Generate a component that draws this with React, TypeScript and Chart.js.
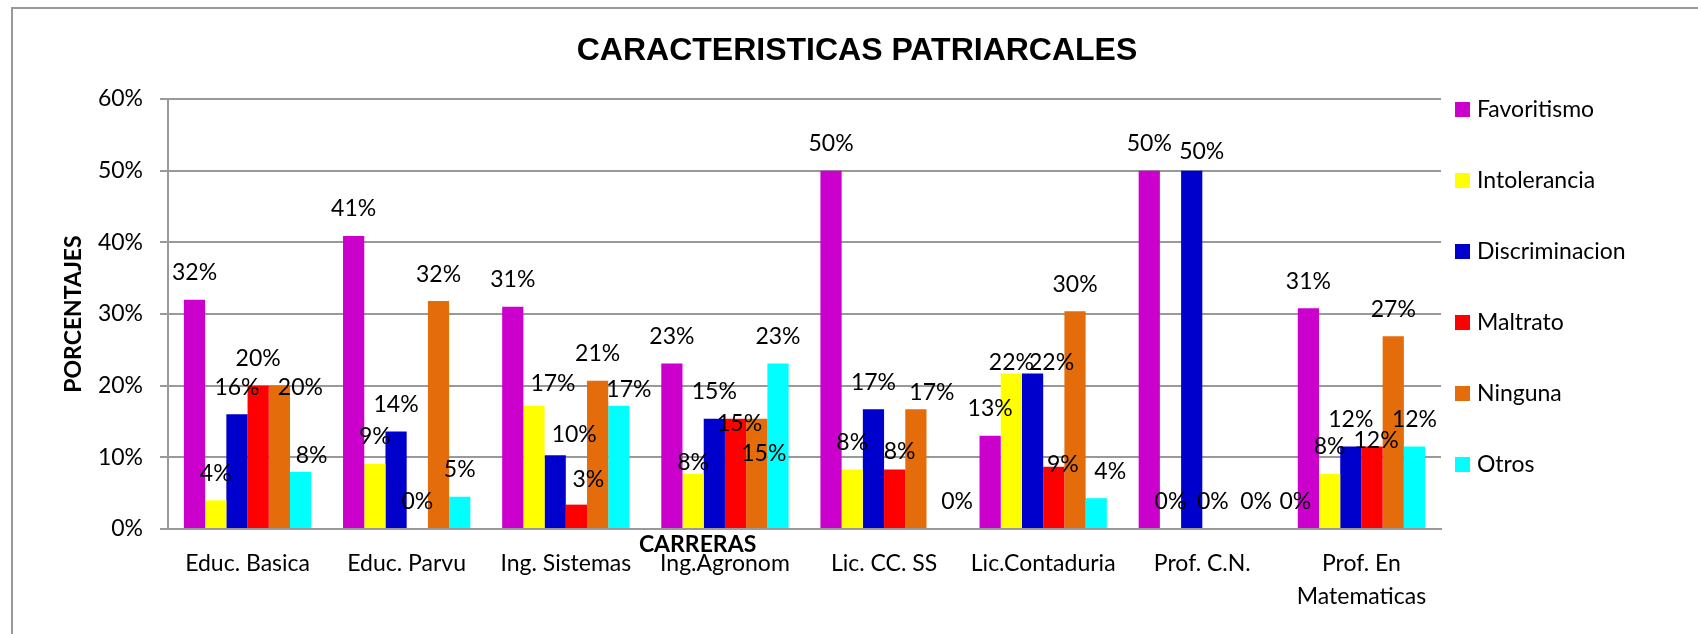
import React, { useEffect, useRef } from "react";
import { Chart, registerables } from "chart.js";

Chart.register(...registerables);

// ---------- data ----------
const categories: (string | string[])[] = [
  "Educ. Basica",
  "Educ. Parvu",
  "Ing. Sistemas",
  "Ing.Agronom",
  "Lic. CC. SS",
  "Lic.Contaduria",
  "Prof. C.N.",
  ["Prof. En", "Matematicas"],
];

const seriesNames = ["Favoritismo", "Intolerancia", "Discriminacion", "Maltrato", "Ninguna", "Otros"];

const favoritismo = [32, 40.9, 31.0, 23.1, 50, 13.0, 50, 30.8];
const intolerancia = [4, 9.1, 17.2, 7.7, 8.3, 21.7, 0, 7.7];
const discriminacion = [16, 13.6, 10.3, 15.4, 16.7, 21.7, 50, 11.5];
const maltrato = [20, 0, 3.4, 15.4, 8.3, 8.7, 0, 11.5];
const ninguna = [20, 31.8, 20.7, 15.4, 16.7, 30.4, 0, 26.9];
const otros = [8, 4.5, 17.2, 23.1, 0, 4.3, 0, 11.5];

const yTickValues = [0, 10, 20, 30, 40, 50, 60];

// ---------- styles ----------
const seriesColors = ["#CC00CC", "#FFFF00", "#0000CC", "#FF0000", "#E46C0A", "#00FFFF"];

// per-label nudges [dx, dy] (label placement as moved in the original)
const labelNudges: number[][][] = [
  [[0, 0], [0, 0], [0, 0], [0, 0], [0, 0], [0, 0], [0, 0], [0, 0]],
  [[0, 0], [0, 0], [19, 5], [0, 16], [0, 0], [0, 16], [0, 0], [0, 0]],
  [[0, 0], [0, 0], [19, 6], [0, 0], [0, 0], [19, 16], [10, 8], [0, 0]],
  [[0, 0], [0, 0], [12, 2], [4, 32], [5, 9], [9, 25], [0, 0], [4, 21]],
  [[21, 29], [0, 0], [0, 0], [7, 62], [16, 10], [0, 0], [22, 0], [0, 0]],
  [[11, 11], [0, 0], [10, 11], [0, 0], [20, 0], [14, 0], [40, 0], [0, 0]],
];

const FONT = "Lato, 'Open Sans', sans-serif";
const GRID = "#999999";

const seriesValues = [favoritismo, intolerancia, discriminacion, maltrato, ninguna, otros];

const decorPlugin = {
  id: "decor",
  afterDatasetsDraw(chart: any) {
    const ctx = chart.ctx;
    ctx.save();
    // data labels
    ctx.font = `23px ${FONT}`;
    ctx.fillStyle = "#000";
    ctx.textAlign = "center";
    ctx.textBaseline = "middle";
    chart.data.datasets.forEach((ds: any, di: number) => {
      const meta = chart.getDatasetMeta(di);
      meta.data.forEach((bar: any, i: number) => {
        const v = ds.data[i] as number;
        const [dx, dy] = labelNudges[di][i];
        ctx.fillText(Math.round(v) + "%", bar.x + dx, bar.y - 27 + dy);
      });
    });
    ctx.restore();
  },
  afterDraw(chart: any) {
    const ctx = chart.ctx;
    const area = chart.chartArea;
    ctx.save();
    // title
    ctx.font = "bold 32px 'Liberation Sans', Arial, sans-serif";
    ctx.fillStyle = "#000";
    ctx.textAlign = "center";
    ctx.textBaseline = "alphabetic";
    ctx.fillText("CARACTERISTICAS PATRIARCALES", 857, 60);
    // x axis title
    ctx.font = `bold 23px ${FONT}`;
    ctx.fillText("CARRERAS", area.left + (area.right - area.left) * 0.416, area.bottom + 23);
    // legend
    ctx.font = `23px ${FONT}`;
    ctx.textAlign = "left";
    ctx.textBaseline = "middle";
    chart.data.datasets.forEach((ds: any, i: number) => {
      const cy = area.top + 10.5 + i * 71;
      const x0 = area.right + 14;
      ctx.fillStyle = ds.backgroundColor;
      ctx.fillRect(x0, cy - 7.5, 15, 15);
      ctx.fillStyle = "#000";
      ctx.fillText(ds.label, x0 + 22, cy);
    });
    ctx.restore();
  },
};

export default function App() {
  const canvasRef = useRef<HTMLCanvasElement | null>(null);

  useEffect(() => {
    if (!canvasRef.current) return;
    const chart = new Chart(canvasRef.current, {
      type: "bar",
      data: {
        labels: categories as any,
        datasets: seriesNames.map((name, i) => ({
          label: name,
          data: seriesValues[i],
          backgroundColor: seriesColors[i],
          borderWidth: 0,
          categoryPercentage: 0.8,
          barPercentage: 1.0,
        })),
      },
      options: {
        animation: false,
        responsive: false,
        devicePixelRatio: 1,
        layout: { padding: { left: 0, top: 99, right: 257, bottom: 0 } },
        plugins: {
          legend: { display: false },
          title: { display: false },
          tooltip: { enabled: false },
        },
        scales: {
          x: {
            grid: { display: false, drawTicks: false },
            border: { display: true, color: GRID, width: 2 },
            ticks: {
              color: "#000",
              font: { family: FONT, size: 23, lineHeight: 1.43 },
              padding: 18,
              maxRotation: 0,
              autoSkip: false,
            },
            afterFit(scale: any) {
              scale.height = 105;
            },
          },
          y: {
            min: 0,
            max: 60,
            afterBuildTicks(scale: any) {
              scale.ticks = yTickValues.map((v) => ({ value: v }));
            },
            grid: { color: GRID, lineWidth: 2, tickLength: 8, drawTicks: true },
            border: { display: true, color: GRID, width: 2 },
            ticks: {
              color: "#000",
              font: { family: FONT, size: 23 },
              padding: 17,
              callback: (v: any) => v + "%",
            },
            title: {
              display: true,
              text: "PORCENTAJES",
              color: "#000",
              font: { family: FONT, size: 23, weight: "bold" },
              padding: { top: 60, bottom: 0 },
            },
            afterFit(scale: any) {
              scale.width = 168;
            },
          },
        },
      },
      plugins: [decorPlugin],
    });
    return () => chart.destroy();
  }, []);

  return (
    <div
      style={{
        position: "fixed",
        left: 0,
        top: 0,
        width: 1698,
        height: 634,
        overflow: "hidden",
        background: "#fff",
      }}
    >
      <div
        style={{
          position: "absolute",
          left: 11,
          top: 7,
          width: 2000,
          height: 1000,
          border: "2px solid #999999",
        }}
      />
      <canvas
        ref={canvasRef}
        width={1698}
        height={634}
        style={{ position: "absolute", left: 0, top: 0, width: 1698, height: 634 }}
      />
    </div>
  );
}
